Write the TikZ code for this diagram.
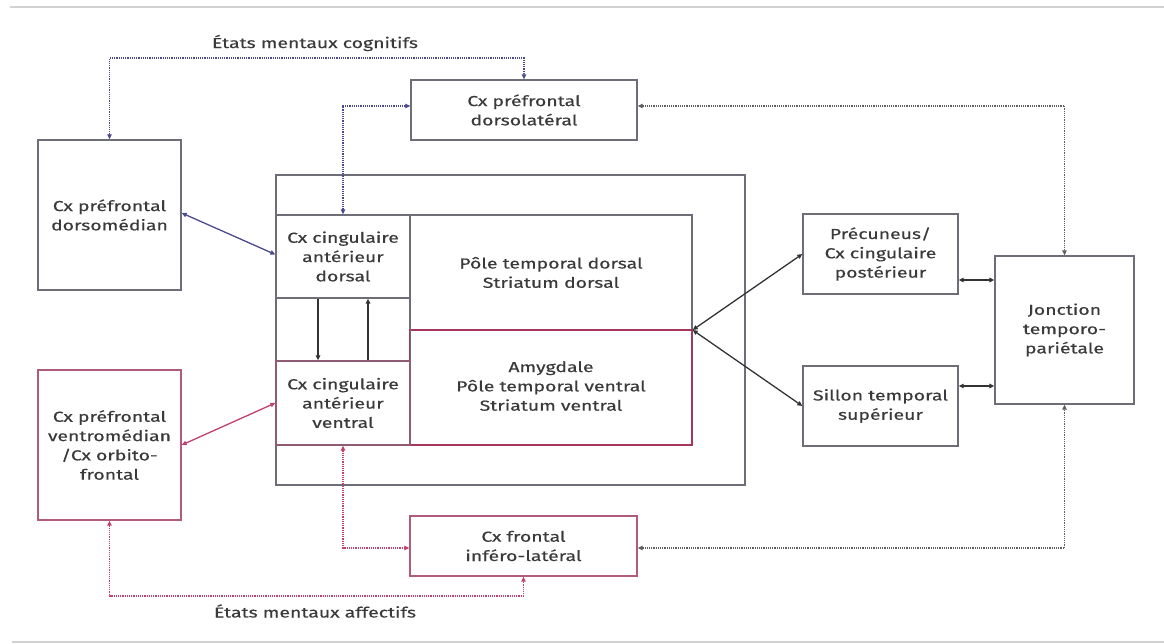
\documentclass[tikz,border=0pt]{standalone}
\usepackage{fontspec}
\setmainfont[FakeStretch=1.34,FakeBold=0.4]{Fira Sans}
\usetikzlibrary{arrows.meta,calc}
\definecolor{bl}{HTML}{4A4A8C}
\definecolor{pk}{HTML}{C2406E}
\definecolor{gr}{HTML}{5E5E5E}
\definecolor{bx}{HTML}{6E6E78}
\definecolor{bxp}{HTML}{B05A7C}
\definecolor{txt}{HTML}{3A3A3A}
\definecolor{rule}{HTML}{D2D2D2}
\tikzset{
  tip/.style={{Triangle[length=5pt,width=4.5pt]}-{Triangle[length=5pt,width=4.5pt]}},
  onetip/.style={-{Triangle[length=5pt,width=4.5pt]}},
  box/.style={draw=bx, line width=1.3pt, inner sep=0pt, align=center, text=txt,
    font=\fontsize{14.5}{19.3}\selectfont},
  pbox/.style={box, draw=bxp},
  dotl/.style={line width=1.1pt, dash pattern=on 1.2pt off 1pt},
  lab/.style={text=txt, font=\fontsize{14.5}{19.3}\selectfont, inner sep=0pt},
}
\begin{document}
\begin{tikzpicture}[x=1pt,y=-1pt]
\useasboundingbox (0,0) rectangle (1164,644);
% rules
\draw[rule, line width=2.2pt] (10,7) coordinate (r1) -- (1164,7) coordinate (r2);
\draw[rule, line width=2.2pt] (12,642) coordinate (r3) -- (1164,642) coordinate (r4);
% outer and inner grouping boxes
\node[box, minimum width=469pt, minimum height=310pt] (outer) at (510.5,330) {};
\node[box, minimum width=416pt, minimum height=230pt] (lim) at (484,330) {};
% regions
\node[box, minimum width=282pt, minimum height=115pt] (pd) at (551,272.5) {Pôle temporal dorsal\\Striatum dorsal};
\node[pbox, draw=pk!85!black, minimum width=282pt, minimum height=115pt] (am) at (551,387.5) {\raisebox{6pt}{\begin{tabular}{@{}c@{}}Amygdale\\Pôle temporal ventral\\Striatum ventral\end{tabular}}};
\node[box, minimum width=134pt, minimum height=83pt] (dc) at (343,256.5) {Cx cingulaire\\antérieur\\dorsal};
\node[pbox, draw=bx!60!pk, minimum width=134pt, minimum height=84pt] (vc) at (343,403) {Cx cingulaire\\antérieur\\ventral};
\draw[bx, line width=1.3pt] (dc.south east) -- (vc.north east);
% other boxes
\node[box, minimum width=226pt, minimum height=60pt] (dl) at (524,110) {Cx préfrontal\\dorsolatéral};
\node[box, minimum width=143pt, minimum height=150pt] (dm) at (109.5,215) {Cx préfrontal\\dorsomédian};
\node[pbox, minimum width=143pt, minimum height=150pt] (vm) at (109.5,445) {Cx préfrontal\\ventromédian\\/Cx orbito-\\frontal};
\node[pbox, minimum width=227pt, minimum height=60pt] (il) at (523.5,546) {Cx frontal\\inféro-latéral};
\node[box, minimum width=155pt, minimum height=80pt] (pc) at (880.5,254) {Précuneus/\\Cx cingulaire\\postérieur};
\node[box, minimum width=155pt, minimum height=80pt] (st) at (880.5,406) {Sillon temporal\\supérieur};
\node[box, minimum width=139pt, minimum height=148pt] (jtp) at (1064.5,330) {Jonction\\temporo-\\pariétale};
% labels
\node[lab] (cog) at (315,43) {États mentaux cognitifs};
\node[lab] (aff) at (315,611) {États mentaux affectifs};
\coordinate (cogL) at (109.5,58);
\coordinate (affL) at (109.5,596);
% dotted connectors
\draw[bl, dotl, tip] (dm.north) -- (cogL) -| (dl.north);
\draw[bl, dotl, tip] (dc.north) |- ([yshift=4pt]dl.west);
\draw[gr, dotl, tip] ([yshift=4pt]dl.east) -| (jtp.north);
\draw[gr, dotl, tip] ([yshift=-2pt]il.east) -| (jtp.south);
\draw[pk, dotl, tip] (vc.south) |- ([yshift=-2pt]il.west);
\draw[pk, dotl, tip] (vm.south) -- (affL) -| (il.south);
% solid connectors
\draw[bl, line width=1.3pt, tip] ([yshift=2pt]dm.east) -- ([yshift=2pt]dc.west);
\draw[pk, line width=1.3pt, tip] (vm.east) -- (vc.west);
\draw[black!80, line width=1.3pt, tip] (lim.east) -- (pc.west);
\draw[black!80, line width=1.3pt, tip] (lim.east) -- (st.west);
\draw[black!80, line width=1.3pt, tip] ([yshift=-26pt]pc.east) -- ([yshift=-26pt]pc.east -| jtp.west);
\draw[black!80, line width=1.3pt, tip] ([yshift=20pt]st.east) -- ([yshift=20pt]st.east -| jtp.west);
\draw[black!80, line width=1.3pt, onetip] ([xshift=-25pt]dc.south) -- ([xshift=-25pt]vc.north);
\draw[black!80, line width=1.3pt, onetip] ([xshift=25pt]vc.north) -- ([xshift=25pt]dc.south);
\end{tikzpicture}
\end{document}
